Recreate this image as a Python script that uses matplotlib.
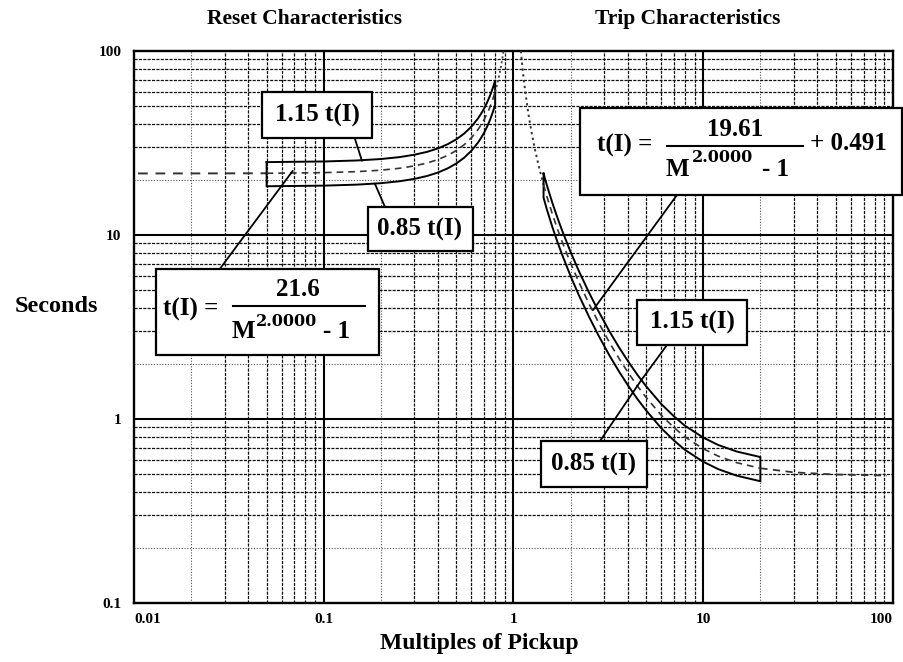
import matplotlib
matplotlib.use('Agg')
import matplotlib.pyplot as plt
from matplotlib.transforms import Affine2D
from matplotlib.patches import Rectangle

# ---------------- data ----------------
reset_lead_M = [0.0105, 0.02, 0.05]
reset_lead_t = [21.6, 21.61, 21.65]
reset_band_M = [0.05, 0.1, 0.15, 0.2, 0.25, 0.3, 0.35, 0.4, 0.45, 0.5, 0.55, 0.6,
                0.65, 0.675, 0.7, 0.725, 0.75, 0.775, 0.8]
reset_band_t = [21.65, 21.82, 22.10, 22.50, 23.04, 23.74, 24.61, 25.71, 27.09, 28.80,
                30.97, 33.75, 37.40, 39.68, 42.35, 45.53, 49.37, 54.08, 60.00]
reset_tail_M = [0.8, 0.82, 0.84, 0.86, 0.87, 0.885]
reset_tail_t = [60.00, 65.93, 73.37, 82.95, 88.85, 99.64]

trip_head_M = [1.094, 1.1, 1.12, 1.15, 1.2, 1.25, 1.3, 1.35, 1.4, 1.44]
trip_head_t = [100.0, 93.87, 77.57, 61.30, 45.06, 35.35, 28.91, 24.33, 20.92, 18.76]
trip_band_M = [1.44, 1.5, 1.6, 1.7, 1.8, 2.0, 2.2, 2.5, 2.8, 3.2, 3.6, 4.0, 4.5, 5.0,
               6.0, 7.0, 8.0, 10.0, 12.0, 15.0, 20.0]
trip_band_t = [18.76, 16.18, 13.06, 10.87, 9.25, 7.03, 5.60, 4.23, 3.36, 2.61, 2.13,
               1.80, 1.51, 1.31, 1.05, 0.90, 0.80, 0.689, 0.628, 0.579, 0.540]
trip_tail_M = [20.0, 30.0, 50.0, 93.0]
trip_tail_t = [0.540, 0.513, 0.499, 0.493]

upper_factor = 1.15
lower_factor = 0.85

x_ticks = [0.01, 0.1, 1, 10, 100]
x_tick_labels = ['0.01', '0.1', '1', '10', '100']
y_ticks = [0.1, 1, 10, 100]
y_tick_labels = ['0.1', '1', '10', '100']

# ---------------- figure ----------------
plt.rcParams['font.family'] = ['Liberation Serif', 'DejaVu Serif']
plt.rcParams['font.weight'] = 'bold'

W, H = 904, 662
fig = plt.figure(figsize=(W / 100, H / 100), dpi=100)
fig.patch.set_facecolor('white')
ax = fig.add_axes([134 / W, 1 - 603 / H, (893 - 134) / W, (603 - 51) / H])
ax.set_xscale('log')
ax.set_yscale('log')
ax.set_xlim(0.01, 100)
ax.set_ylim(0.1, 100)
PX = Affine2D().scale(1 / W, -1 / H).translate(0, 1) + fig.transFigure

# grid
for d in [0.01, 0.1, 1, 10]:
    for k in range(2, 10):
        if k == 2:
            ax.axvline(k * d, color='#555', lw=0.8, ls=(0, (1, 1.5)), zorder=1)
        else:
            ax.axvline(k * d, color='#111', lw=0.9, ls=(0, (2.5, 1)), zorder=1)
for d in [0.1, 1, 10]:
    for k in range(2, 10):
        if k == 2:
            ax.axhline(k * d, color='#555', lw=0.8, ls=(0, (1, 1.5)), zorder=1)
        else:
            ax.axhline(k * d, color='#111', lw=0.9, ls=(0, (2.5, 1)), zorder=1)
for v in x_ticks[1:-1]:
    ax.axvline(v, color='black', lw=1.5, zorder=1)
for v in y_ticks[1:-1]:
    ax.axhline(v, color='black', lw=1.5, zorder=1)

for s in ax.spines.values():
    s.set_linewidth(1.7)
    s.set_color('black')

ax.set_xticks(x_ticks)
ax.set_xticklabels(x_tick_labels)
ax.set_yticks(y_ticks)
ax.set_yticklabels(y_tick_labels)
ax.xaxis.set_minor_formatter(matplotlib.ticker.NullFormatter())
ax.yaxis.set_minor_formatter(matplotlib.ticker.NullFormatter())
ax.tick_params(which='both', length=0, labelsize=11)
ax.tick_params(axis='x', pad=7)
ax.tick_params(axis='y', pad=9)
xl = ax.get_xticklabels()
xl[0].set_ha('left')
xl[-1].set_ha('right')


def band(Ms, ts, color='black'):
    up = [upper_factor * t for t in ts]
    lo = [lower_factor * t for t in ts]
    xs = list(Ms) + list(Ms[::-1]) + [Ms[0]]
    ys = up + lo[::-1] + [up[0]]
    ax.plot(xs, ys, color=color, lw=1.4, zorder=3, solid_joinstyle='miter')


# reset characteristic
ax.plot(reset_lead_M, reset_lead_t, color='#333', lw=1.4, ls=(0, (5, 4)), zorder=3)
band(reset_band_M, reset_band_t)
ax.plot(reset_band_M, reset_band_t, color='#333', lw=1.2, ls=(0, (4, 3)), zorder=3)
ax.plot(reset_tail_M, reset_tail_t, color='#444', lw=1.3, ls=(0, (1.2, 1.5)), zorder=3)

# trip characteristic
ax.plot(trip_head_M, trip_head_t, color='#333', lw=1.4, ls=(0, (1.2, 1.8)), zorder=3)
band(trip_band_M, trip_band_t)
ax.plot(trip_band_M, trip_band_t, color='#333', lw=1.2, ls=(0, (4, 3)), zorder=3)
ax.plot(trip_tail_M, trip_tail_t, color='#333', lw=1.3, ls=(0, (4, 3)), zorder=3)


def leader(box_xy, data_xy):
    ax.annotate('', xy=data_xy, xycoords='data', xytext=box_xy, textcoords=PX,
                arrowprops=dict(arrowstyle='-', lw=1.3, color='black',
                                shrinkA=0, shrinkB=0), zorder=4, annotation_clip=False)


def box(x0, y0, x1, y1):
    r = Rectangle((x0, y1), x1 - x0, y0 - y1, transform=PX, facecolor='white',
                  edgecolor='black', lw=1.6, zorder=5, clip_on=False)
    ax.add_patch(r)


def txt(x, y, s, size=18, ha='left', va='center', family=None):
    kw = {}
    if family:
        kw['family'] = family
    ax.text(x, y, s, transform=PX, fontsize=size, ha=ha, va=va, fontweight='bold',
            zorder=6, clip_on=False, **kw)


def hline(x0, x1, y):
    ax.plot([x0, x1], [y, y], transform=PX, color='black', lw=1.5, zorder=6, clip_on=False)


# leaders
leader((355, 139), (0.159, 25.3))
leader((385, 207), (0.186, 19.0))
leader((219, 270), (0.0686, 22.3))
leader((677, 195), (2.62, 3.9))
leader((667, 345), (4.72, 1.63))
leader((600, 441), (4.72, 1.63))

# boxes with labels
box(262, 92, 372, 138)
txt(317, 115, '1.15 t(I)', ha='center')
box(368, 207, 473, 251)
txt(420, 229, '0.85 t(I)', ha='center')
box(637, 300, 747, 345)
txt(692, 322, '1.15 t(I)', ha='center')
box(541, 441, 647, 487)
txt(594, 464, '0.85 t(I)', ha='center')

SUP = ['DejaVu Serif']

# reset formula
box(156, 269, 379, 355)
txt(163, 309, 't(I) =')
txt(298, 289, '21.6', ha='center')
hline(233, 365, 306)
txt(232, 331, 'M')
txt(256, 321, '2.0000', size=11.5, family=SUP)
txt(323, 331, '- 1')

# trip formula
box(580, 108, 902, 195)
txt(597, 145, 't(I) =')
txt(735, 130, '19.61', ha='center')
hline(667, 803, 146)
txt(666, 170, 'M')
txt(692, 157, '2.0000', size=11.5, family=SUP)
txt(762, 169, '- 1')
txt(810, 143, '+ 0.491')

# titles and axis labels
fig.text(305 / W, 1 - 19 / H, 'Reset Characteristics', ha='center', va='center',
         fontsize=15.5, fontweight='bold')
fig.text(688 / W, 1 - 19 / H, 'Trip Characteristics', ha='center', va='center',
         fontsize=15.5, fontweight='bold')
fig.text(56 / W, 1 - 306 / H, 'Seconds', ha='center', va='center',
         fontsize=17.5, fontweight='bold')
fig.text(479 / W, 1 - 644 / H, 'Multiples of Pickup', ha='center', va='center',
         fontsize=17, fontweight='bold')

fig.savefig('out.png', dpi=100, facecolor='white')
